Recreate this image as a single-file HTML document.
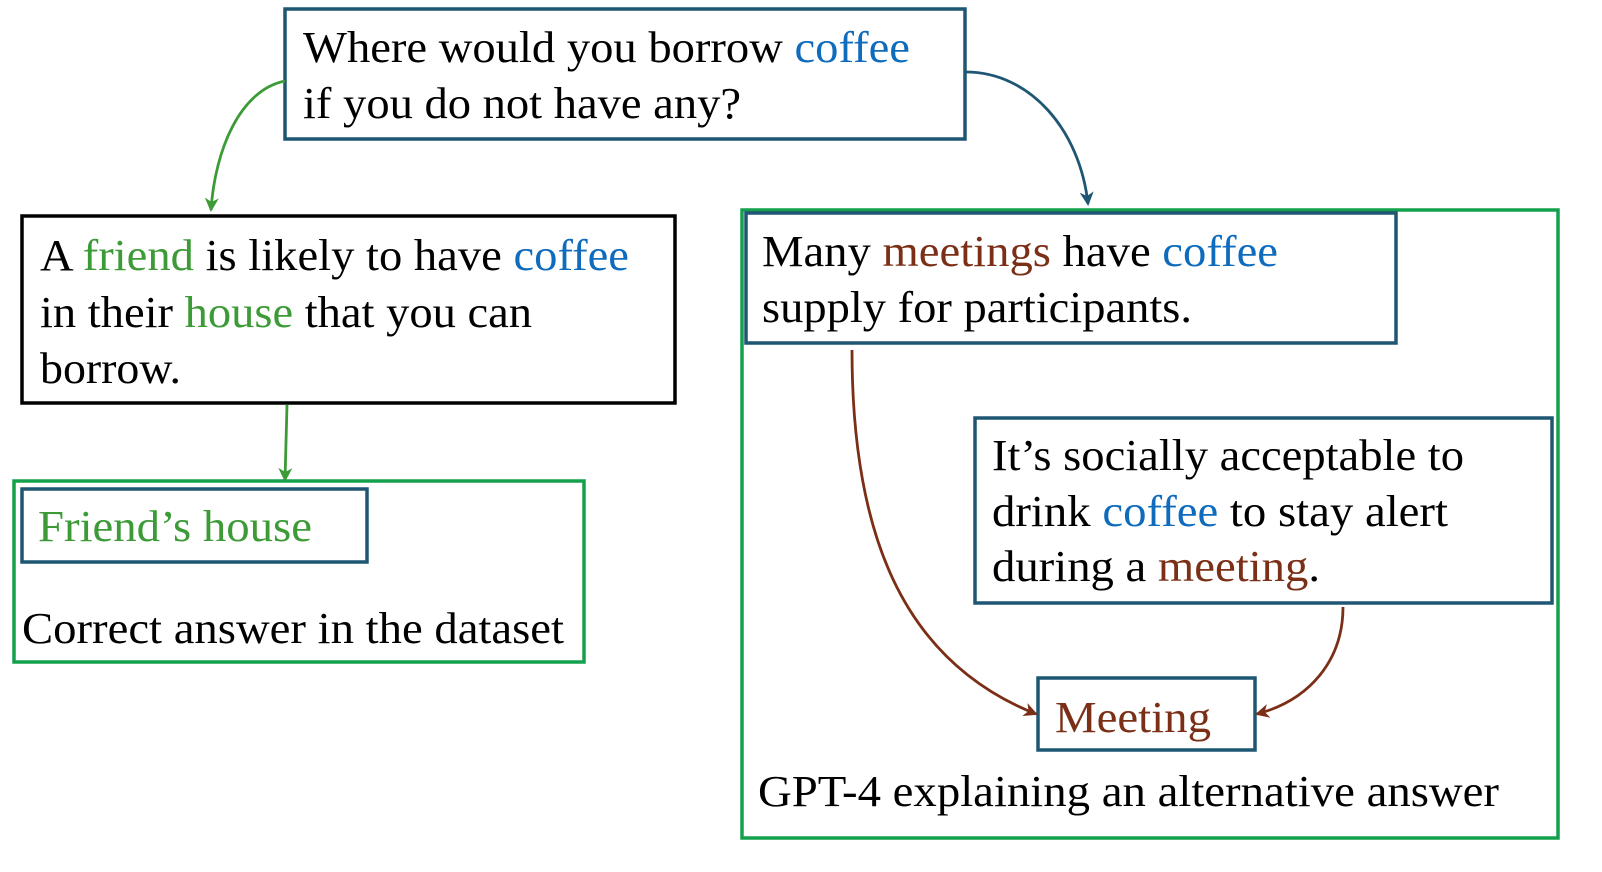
<!DOCTYPE html>
<html><head><meta charset="utf-8"><style>
html,body{margin:0;padding:0;background:#fff;overflow:hidden;}
svg{display:block;}
text{font-family:"Liberation Serif",serif;font-size:44px;fill:#000;}
.g{fill:#3c9b37}.b{fill:#0f6cbd}.r{fill:#7b2f16}
</style></head><body>
<svg width="1602" height="872" viewBox="0 0 1602 872" xmlns="http://www.w3.org/2000/svg">
<defs>
<marker id="ag" markerWidth="14" markerHeight="14" refX="12" refY="7" orient="auto" markerUnits="userSpaceOnUse"><path d="M0,0 L14,7 L0,14 L4,7 z" fill="#3c9b37"/></marker>
<marker id="at" markerWidth="14" markerHeight="14" refX="12" refY="7" orient="auto" markerUnits="userSpaceOnUse"><path d="M0,0 L14,7 L0,14 L4,7 z" fill="#1f5673"/></marker>
<marker id="ar" markerWidth="14" markerHeight="14" refX="12" refY="7" orient="auto" markerUnits="userSpaceOnUse"><path d="M0,0 L14,7 L0,14 L4,7 z" fill="#7b2f16"/></marker>
</defs>
<g fill="none" stroke-width="3.5">
<rect x="285" y="9" width="680" height="130" stroke="#1f5673"/>
<rect x="22" y="216" width="653" height="187" stroke="#000"/>
<rect x="14" y="481" width="570" height="181" stroke="#14a04c"/>
<rect x="22" y="489" width="345" height="73" stroke="#1f5673"/>
<rect x="742" y="210" width="816" height="628" stroke="#14a04c"/>
<rect x="746" y="213" width="650" height="130" stroke="#1f5673"/>
<rect x="975" y="418" width="577" height="185" stroke="#1f5673"/>
<rect x="1038" y="678" width="217" height="72" stroke="#1f5673"/>
</g>
<g fill="none" stroke-width="2.8">
<path d="M285,81 C240,90 215,150 211,210" stroke="#3c9b37" marker-end="url(#ag)"/>
<path d="M287,405 L285,480" stroke="#3c9b37" marker-end="url(#ag)"/>
<path d="M966,72 C1030,72 1080,130 1088,204" stroke="#1f5673" marker-end="url(#at)"/>
<path d="M852,350 C852,530 900,660 1036,714" stroke="#7b2f16" marker-end="url(#ar)"/>
<path d="M1343,607 C1343,660 1310,700 1257,714" stroke="#7b2f16" marker-end="url(#ar)"/>
</g>
<text x="303" y="62" textLength="607" lengthAdjust="spacingAndGlyphs">Where would you borrow <tspan class="b">coffee</tspan></text>
<text x="303" y="118" textLength="438" lengthAdjust="spacingAndGlyphs">if you do not have any?</text>
<text x="40" y="270" textLength="589" lengthAdjust="spacingAndGlyphs">A <tspan class="g">friend</tspan> is likely to have <tspan class="b">coffee</tspan></text>
<text x="40" y="327" textLength="492" lengthAdjust="spacingAndGlyphs">in their <tspan class="g">house</tspan> that you can</text>
<text x="40" y="383" textLength="141" lengthAdjust="spacingAndGlyphs">borrow.</text>
<text x="38" y="541" class="g" textLength="274" lengthAdjust="spacingAndGlyphs">Friend’s house</text>
<text x="22" y="643" textLength="542" lengthAdjust="spacingAndGlyphs">Correct answer in the dataset</text>
<text x="762" y="266" textLength="516" lengthAdjust="spacingAndGlyphs">Many <tspan class="r">meetings</tspan> have <tspan class="b">coffee</tspan></text>
<text x="762" y="322" textLength="430" lengthAdjust="spacingAndGlyphs">supply for participants.</text>
<text x="992" y="470" textLength="472" lengthAdjust="spacingAndGlyphs">It’s socially acceptable to</text>
<text x="992" y="526" textLength="456" lengthAdjust="spacingAndGlyphs">drink <tspan class="b">coffee</tspan> to stay alert</text>
<text x="992" y="581" textLength="328" lengthAdjust="spacingAndGlyphs">during a <tspan class="r">meeting</tspan>.</text>
<text x="1055" y="732" class="r" textLength="156" lengthAdjust="spacingAndGlyphs">Meeting</text>
<text x="758" y="806" textLength="741" lengthAdjust="spacingAndGlyphs">GPT-4 explaining an alternative answer</text>
</svg>
</body></html>
